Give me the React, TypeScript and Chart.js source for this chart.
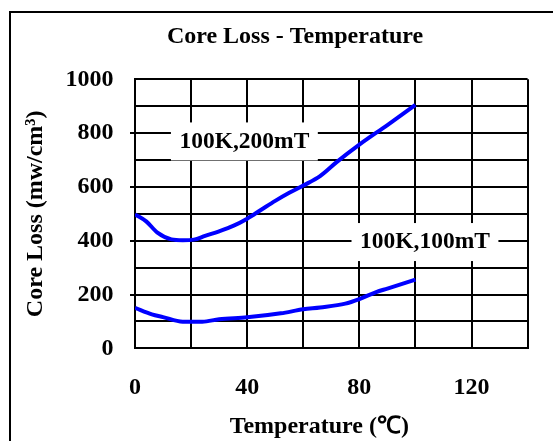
import React, { useEffect, useRef } from 'react';
import { Chart, registerables } from 'chart.js';

Chart.register(...registerables);

// Temperature (°C) and core loss (mW/cm³)
const temp200 = [0, 4, 8, 13, 17, 21, 25, 30, 35, 40, 45, 50, 55, 60, 66, 72, 80, 90, 100];
const loss200 = [498, 472, 430, 405, 402, 404, 418, 435, 455, 482, 515, 548, 578, 605, 640, 693, 757, 830, 905];

const temp100 = [0, 6, 10, 17, 24, 30, 40, 52, 60, 66, 75, 80, 86, 90, 100];
const loss100 = [150, 126, 116, 99, 99, 108, 115, 130, 145, 152, 166, 183, 209, 222, 255];

const xTickLabels = [0, 40, 80, 120];
const yTickLabels = [0, 200, 400, 600, 800, 1000];
const yTickMarks = [200, 400, 600, 800];

const curveLabels = ['100K,200mT', '100K,100mT'];
const curveLabelTemp = [39, 103.4];
const curveLabelLoss = [769, 395];

const FONT = "'Liberation Serif', 'Times New Roman', Times, serif";
const font = { family: FONT, size: 24, weight: 'bold' as const };

const curveLabelPlugin = {
  id: 'curveLabels',
  beforeDatasetsDraw(chart: any) {
    const { ctx, scales } = chart;
    const x = scales.x;
    const y = scales.y;
    ctx.save();
    ctx.font = `bold 23.5px ${FONT}`;
    ctx.textAlign = 'center';
    ctx.textBaseline = 'middle';
    curveLabels.forEach((t, i) => {
      const px = x.getPixelForValue(curveLabelTemp[i]);
      const py = y.getPixelForValue(curveLabelLoss[i]);
      const w = ctx.measureText(t).width + 17;
      const h = 38;
      ctx.fillStyle = '#ffffff';
      ctx.fillRect(px - w / 2, py - h / 2, w, h);
      ctx.fillStyle = '#000000';
      ctx.fillText(t, px, py);
    });
    ctx.restore();
  },
};

export default function App() {
  const ref = useRef<HTMLCanvasElement>(null);

  useEffect(() => {
    if (!ref.current) return;
    const chart = new Chart(ref.current, {
      type: 'line',
      data: {
        datasets: [
          {
            label: '100K,200mT',
            data: temp200.map((t, i) => ({ x: t, y: loss200[i] })),
            borderColor: '#0000ff',
            borderWidth: 4,
            pointRadius: 0,
            cubicInterpolationMode: 'monotone',
            fill: false,
          },
          {
            label: '100K,100mT',
            data: temp100.map((t, i) => ({ x: t, y: loss100[i] })),
            borderColor: '#0000ff',
            borderWidth: 4,
            pointRadius: 0,
            cubicInterpolationMode: 'monotone',
            fill: false,
          },
        ],
      },
      options: {
        responsive: false,
        animation: false,
        layout: { padding: { left: 0, right: 23, top: 0, bottom: 0 } },
        plugins: {
          legend: { display: false },
          tooltip: { enabled: false },
          title: {
            display: true,
            text: '          Core Loss - Temperature',
            font,
            color: '#000',
            padding: { top: 22.4, bottom: 28.1 },
          },
        },
        scales: {
          x: {
            type: 'linear',
            min: 0,
            max: 140,
            ticks: {
              stepSize: 20,
              autoSkip: false,
              maxRotation: 0,
              padding: 25.4,
              font,
              color: '#000',
              callback: (v: any) => (xTickLabels.includes(Number(v)) ? String(v) : ''),
            },
            grid: { color: '#000', lineWidth: 2, drawTicks: false },
            border: { color: '#000', width: 2 },
            title: {
              display: true,
              text: 'Temperature (℃)    ',
              font,
              color: '#000',
              padding: { top: 0, bottom: 0 },
            },
            afterFit: (s: any) => {
              s.height = 92.7;
            },
          },
          y: {
            type: 'linear',
            min: 0,
            max: 1000,
            ticks: {
              stepSize: 100,
              autoSkip: false,
              padding: 16.5,
              font,
              color: '#000',
              callback: (v: any) => (yTickLabels.includes(Number(v)) ? String(v) : ''),
            },
            grid: {
              color: '#000',
              lineWidth: 2,
              tickLength: 5,
              tickColor: (c: any) =>
                c.tick && yTickMarks.includes(c.tick.value) ? '#000' : 'rgba(0,0,0,0)',
            },
            border: { color: '#000', width: 2 },
            title: {
              display: true,
              text: 'Core Loss (mw/cm³)',
              font,
              color: '#000',
              padding: { top: 21.4, bottom: 0 },
            },
            afterFit: (s: any) => {
              s.width = 135;
            },
          },
        },
      },
      plugins: [curveLabelPlugin],
    } as any);
    return () => chart.destroy();
  }, []);

  return (
    <div
      style={{
        position: 'fixed',
        left: 0,
        top: 0,
        width: 553,
        height: 441,
        overflow: 'hidden',
        background: '#fff',
      }}
    >
      <div
        style={{
          position: 'absolute',
          left: 9,
          top: 11,
          width: 600,
          height: 500,
          border: '2px solid #000',
        }}
      />
      <canvas
        ref={ref}
        width={553}
        height={441}
        style={{ position: 'absolute', left: 0, top: 0 }}
      />
    </div>
  );
}
